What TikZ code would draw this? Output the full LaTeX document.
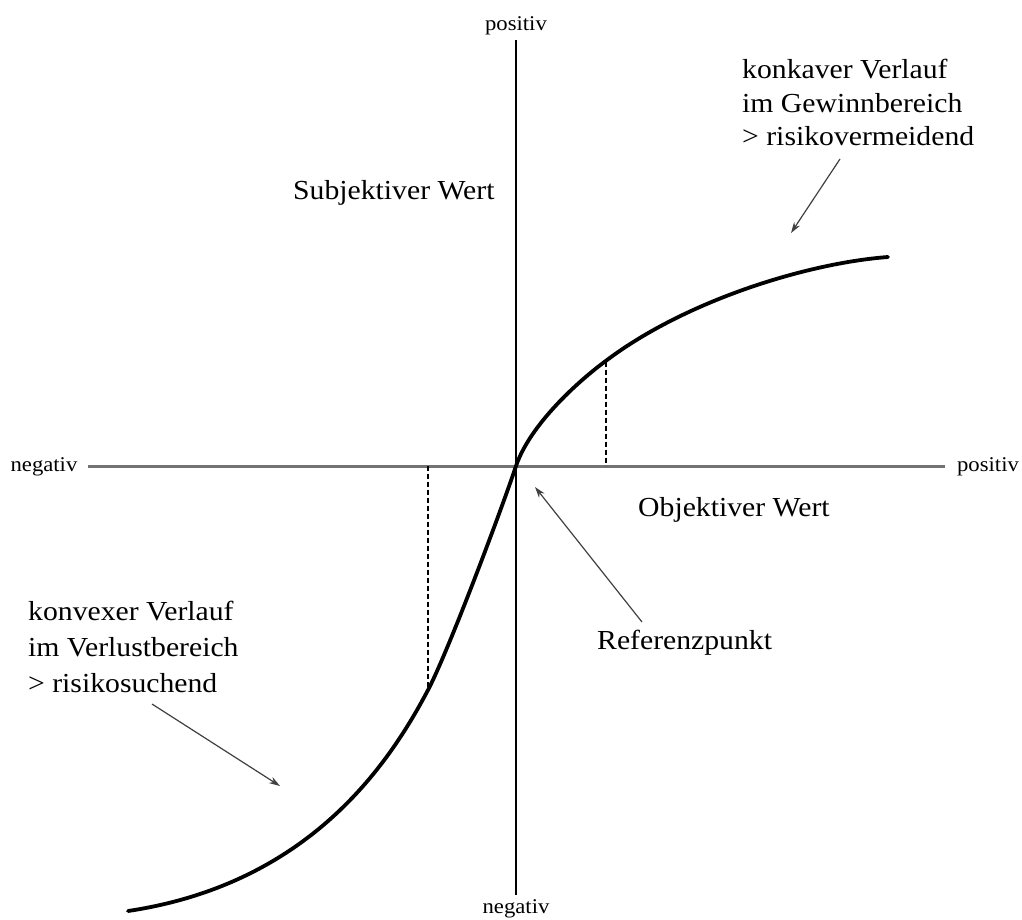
\documentclass[tikz,border=0pt]{standalone}
\usepackage{fontspec}
\setmainfont{Liberation Serif}
\newfontfamily\widefont[FakeStretch=1.08]{Liberation Serif}
\usetikzlibrary{arrows.meta}
\tikzset{
  bigtext/.style={inner sep=0pt, font=\widefont\fontsize{27.5}{33.5}\selectfont},
  smalltext/.style={inner sep=0pt, font=\widefont\fontsize{21}{25}\selectfont},
  pointer/.style={draw=black!75, line width=1.2pt, -{Stealth[length=11pt,width=7pt]}},
  curveline/.style={line width=3.8pt, line cap=round},
  guide/.style={line width=1.2pt, dash pattern=on 5pt off 3pt}
}
\begin{document}
\begin{tikzpicture}[x=1pt,y=-1pt]
\useasboundingbox (0,0) rectangle (1022,919);
% axes
\coordinate (xl) at (88,466);
\coordinate (xr) at (945,466);
\coordinate (yt) at (516,40);
\coordinate (yb) at (516,895);
\coordinate (o) at (516,466);
\draw[line width=3pt, black!55] (xl) -- (xr);
\draw[line width=1.8pt] (yt) -- (yb);
% axis labels
\node[smalltext] (ptop) at (516,26) {positiv};
\node[smalltext] (nbot) at (516,909) {negativ};
\node[smalltext] (nleft) at (44,467) {negativ};
\node[smalltext] (pright) at (988,467) {positiv};
% dashed guides
\coordinate (d1t) at (606,362);
\coordinate (d1b) at (606,466);
\coordinate (d2t) at (428,466);
\coordinate (d2b) at (428,690);
\draw[guide] (d1t) -- (d1b);
\draw[guide] (d2t) -- (d2b);
% value curve
\coordinate (c0) at (128,911);
\coordinate (c1) at (428,690);
\coordinate (c3) at (607,360);
\coordinate (c4) at (888,257);
\draw[curveline] (c0) .. controls (308,884) and (388,766) .. (c1)
  .. controls (448,652) and (501,511) .. (o)
  .. controls (530,425) and (577,382) .. (c3)
  .. controls (687,300) and (808,263) .. (c4);
% texts
\node[bigtext, anchor=base west] (subj) at (293,199) {Subjektiver Wert};
\node[bigtext, anchor=base west] (obj) at (638,516) {Objektiver Wert};
\node[bigtext, anchor=base west] (ref) at (597,649) {Referenzpunkt};
\node[bigtext, anchor=north west, align=left] (konk) at (742,59)
  {konkaver Verlauf\\im Gewinnbereich\\> risikovermeidend};
\node[bigtext, anchor=north west, align=left,
  font=\widefont\fontsize{27.5}{36}\selectfont] (konv) at (28,601)
  {konvexer Verlauf\\im Verlustbereich\\> risikosuchend};
% pointers
\coordinate (a1s) at (840,159);
\coordinate (a1e) at (791,233);
\coordinate (a2s) at (152,704);
\coordinate (a2e) at (280,786);
\coordinate (a3s) at (642,622);
\coordinate (a3e) at (535,487);
\draw[pointer] (a1s) -- (a1e);
\draw[pointer] (a2s) -- (a2e);
\draw[pointer] (a3s) -- (a3e);
\end{tikzpicture}
\end{document}
